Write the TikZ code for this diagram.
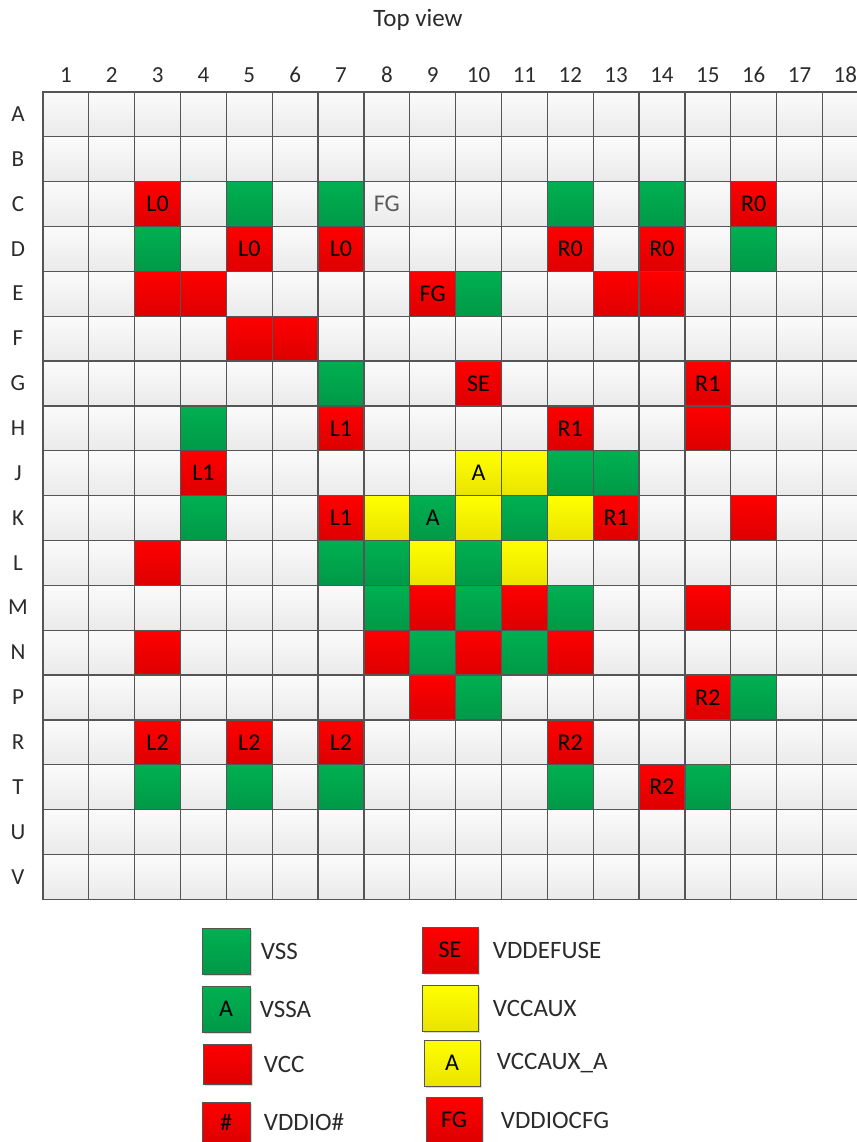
\documentclass[tikz,border=0pt]{standalone}
\usepackage{fontspec}
\setmainfont{Carlito}
\usetikzlibrary{positioning,shadows}

\definecolor{gridline}{HTML}{555555}
\definecolor{cellhi}{HTML}{FBFBFB}
\definecolor{celllo}{HTML}{EAEAEA}
\definecolor{vsshi}{HTML}{00B050}
\definecolor{vsslo}{HTML}{009948}
\definecolor{vcchi}{HTML}{FF0000}
\definecolor{vcclo}{HTML}{DD0000}
\definecolor{auxhi}{HTML}{FFFF00}
\definecolor{auxlo}{HTML}{EAE300}
\definecolor{labelgray}{HTML}{2B2B2B}

\begin{document}
\begin{tikzpicture}[
    x=0.5pt, y=-0.5pt,
    cell/.style={draw=gridline, line width=0.6pt, minimum width=22.9pt, minimum height=22.4pt,
      inner sep=0pt, top color=cellhi, bottom color=celllo, font=\fontsize{12}{14}\selectfont},
    vss/.style={cell, top color=vsshi, bottom color=vsslo},
    vcc/.style={cell, top color=vcchi, bottom color=vcclo},
    aux/.style={cell, top color=auxhi, bottom color=auxlo},
    fgtext/.style={cell, text=black!65},
    tag/.style={font=\fontsize{11.5}{13}\selectfont, text=labelgray, text height=1.5ex, text depth=0pt, inner sep=0pt},
    keybox/.style={minimum width=24pt, minimum height=23pt, line width=0.5pt,
      drop shadow={opacity=0.3, shadow xshift=1pt, shadow yshift=-1pt}},
    keytext/.style={font=\fontsize{12.5}{15}\selectfont, text=labelgray, inner sep=0pt}
  ]
  \useasboundingbox (0,0) rectangle (857,1142);

  \node[tag, font=\fontsize{12.5}{15}\selectfont] (title) at (418,19) {Top view};

  % column numbers
  \foreach \c in {1,...,18}
    \node[tag] (col\c) at ({43+(\c-0.5)*45.85},75) {\c};

  % ball grid
  \foreach \r [count=\i] in {A,B,C,D,E,F,G,H,J,K,L,M,N,P,R,T,U,V} {
    \node[tag] (row\r) at (18,{92+(\i-0.5)*44.85}) {\r};
    \foreach \c in {1,...,18}
      \node[cell] (\r\c) at ({43+(\c-0.5)*45.85},{92+(\i-0.5)*44.85}) {};
  }

  % supply balls
  \foreach \pos/\kind/\txt in {
      C3/vcc/L0, C5/vss/{}, C7/vss/{}, C8/fgtext/FG, C12/vss/{}, C14/vss/{}, C16/vcc/R0,
      D3/vss/{}, D5/vcc/L0, D7/vcc/L0, D12/vcc/R0, D14/vcc/R0, D16/vss/{},
      E3/vcc/{}, E4/vcc/{}, E9/vcc/FG, E10/vss/{}, E13/vcc/{}, E14/vcc/{},
      F5/vcc/{}, F6/vcc/{},
      G7/vss/{}, G10/vcc/SE, G15/vcc/R1,
      H4/vss/{}, H7/vcc/L1, H12/vcc/R1, H15/vcc/{},
      J4/vcc/L1, J10/aux/A, J11/aux/{}, J12/vss/{}, J13/vss/{},
      K4/vss/{}, K7/vcc/L1, K8/aux/{}, K9/vss/A, K10/aux/{}, K11/vss/{}, K12/aux/{}, K13/vcc/R1, K16/vcc/{},
      L3/vcc/{}, L7/vss/{}, L8/vss/{}, L9/aux/{}, L10/vss/{}, L11/aux/{},
      M8/vss/{}, M9/vcc/{}, M10/vss/{}, M11/vcc/{}, M12/vss/{}, M15/vcc/{},
      N3/vcc/{}, N8/vcc/{}, N9/vss/{}, N10/vcc/{}, N11/vss/{}, N12/vcc/{},
      P9/vcc/{}, P10/vss/{}, P15/vcc/R2, P16/vss/{},
      R3/vcc/L2, R5/vcc/L2, R7/vcc/L2, R12/vcc/R2,
      T3/vss/{}, T5/vss/{}, T7/vss/{}, T12/vss/{}, T14/vcc/R2, T15/vss/{}}
    \node[\kind] (p\pos) at (\pos) {\txt};

  % legend
  \node[vss, keybox] (kVSS) at (226,951) {};
  \node[keytext, right=5pt of kVSS] (tVSS) {VSS};
  \node[vss, keybox] (kVSSA) at (226,1009) {A};
  \node[keytext, right=4.5pt of kVSSA] (tVSSA) {VSSA};
  \node[vcc, keybox, minimum height=20pt] (kVCC) at (227,1064) {};
  \node[keytext, right=6pt of kVCC] (tVCC) {VCC};
  \node[vcc, keybox, minimum height=20pt] (kIO) at (226,1122) {\#};
  \node[keytext, right=6.5pt of kIO] (tIO) {VDDIO\#};

  \node[vcc, keybox, minimum width=28pt] (kSE) at (450,950) {SE};
  \node[keytext, right=7pt of kSE] (tSE) {VDDEFUSE};
  \node[aux, keybox, minimum width=28pt] (kAUX) at (450,1008) {};
  \node[keytext, right=7pt of kAUX] (tAUX) {VCCAUX};
  \node[aux, keybox, minimum width=28pt] (kAUXA) at (452,1063) {A};
  \node[keytext, right=8pt of kAUXA] (tAUXA) {VCCAUX\_A};
  \node[vcc, keybox, minimum width=28pt] (kFG) at (454,1120) {FG};
  \node[keytext, right=9pt of kFG] (tFG) {VDDIOCFG};
\end{tikzpicture}
\end{document}
